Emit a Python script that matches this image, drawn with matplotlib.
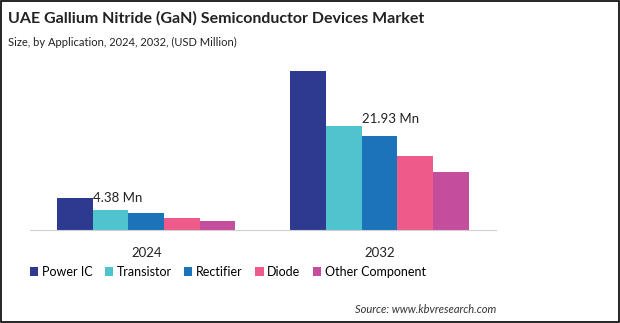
import matplotlib.pyplot as plt
import numpy as np

plt.rcParams['font.family'] = ['Lato', 'DejaVu Sans']

# data
years = ['2024', '2032']
segments = ['Power IC', 'Transistor', 'Rectifier', 'Diode', 'Other Component']
power_ic = [4.38, 21.93]
transistor = [2.7, 14.3]
rectifier = [2.3, 13.0]
diode = [1.7, 10.2]
other = [1.3, 8.0]
colors = ['#2E3A8F', '#4FC4CF', '#1B73B9', '#EE5A89', '#C54D9E']

series = [power_ic, transistor, rectifier, diode, other]

fig = plt.figure(figsize=(6.2, 3.23), dpi=100)
ax = fig.add_axes([0.048, 0.288, 0.752, 0.539])

x = np.arange(len(years))
w = 0.153
offsets = (np.arange(len(series)) - 2) * w
for vals, off, c, name in zip(series, offsets, colors, segments):
    ax.bar(x + off, vals, width=w, color=c, label=name)

ax.set_xlim(-0.5, 1.5)
ax.set_ylim(0, 24)
ax.set_xticks(x)
ax.set_xticklabels(years, fontsize=9.5, color='#222222')
ax.tick_params(axis='x', length=0, pad=12)
ax.set_yticks([])
for s in ['top', 'right', 'left']:
    ax.spines[s].set_visible(False)
ax.spines['bottom'].set_color('#d0d0d0')

# value labels
ax.text(x[0] + offsets[0] + w / 2, power_ic[0], '4.38 Mn', ha='left', va='center',
        fontsize=9.5, color='#222222')
ax.text(x[1] + offsets[1] + w / 2, transistor[1] + 0.2, '21.93 Mn', ha='left', va='bottom',
        fontsize=9.5, color='#222222')

fig.legend(loc='center left', bbox_to_anchor=(0.048, 0.158), ncol=5, frameon=False,
           fontsize=9, handlelength=0.65, handleheight=0.65, handletextpad=0.3,
           columnspacing=1.0, borderpad=0, borderaxespad=0)

fig.text(0.013, 0.93, 'UAE Gallium Nitride (GaN) Semiconductor Devices Market',
         fontsize=11.5, fontweight='bold', color='#222222')
fig.text(0.013, 0.857, 'Size, by Application, 2024, 2032, (USD Million)', fontsize=8,
         color='#222222')
fig.text(0.8, 0.03, 'Source: www.kbvresearch.com', fontsize=8, style='italic',
         ha='right', color='#333333')

# thin frame around the image
fig.patches.append(plt.Rectangle((0.002, 0.003), 0.996, 0.994, transform=fig.transFigure,
                                 fill=False, edgecolor='black', linewidth=1.2))

fig.savefig('out.png', dpi=100)
